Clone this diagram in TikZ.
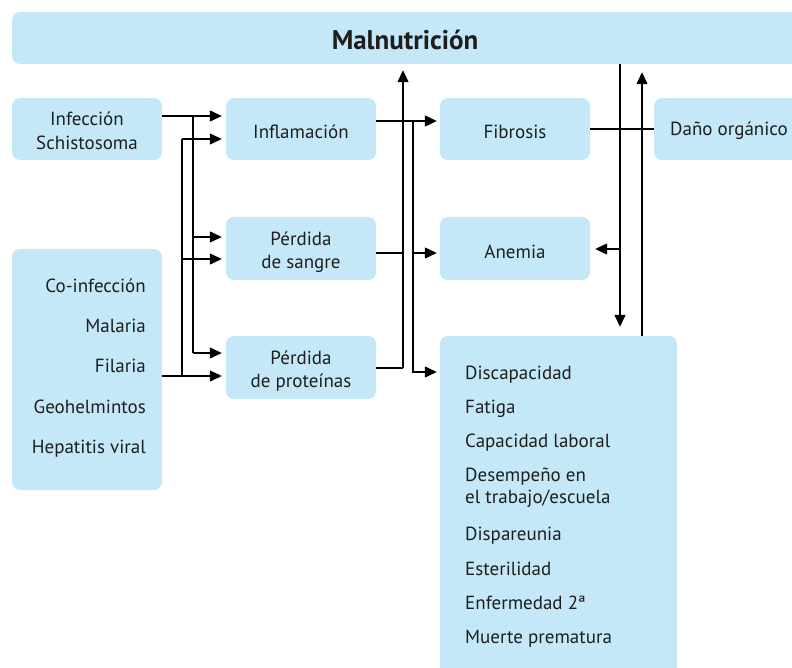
\documentclass[tikz,border=0pt]{standalone}
\usepackage{fontspec}
\setmainfont{PT Sans}
\usetikzlibrary{arrows.meta}
\definecolor{boxfill}{HTML}{C5E8F8}
\definecolor{txt}{HTML}{1E1E1E}
\begin{document}
\begin{tikzpicture}[x=1pt,y=-1pt,
  box/.style={fill=boxfill,rounded corners=8pt,inner sep=0pt},
  btxt/.style={text=txt,inner sep=0pt,align=center,font=\fontsize{19}{23.5}\selectfont},
  lbl/.style={text=txt,inner sep=0pt,font=\fontsize{19}{23}\selectfont,text height=13.5pt,text depth=0pt},
  ln/.style={line width=1.3pt,draw=black},
  arr/.style={ln,-{Triangle[length=12pt,width=11pt]}}]
\useasboundingbox (0,0) rectangle (792,668);
\clip (0,0) rectangle (792,668);
% boxes
\node[box,minimum width=786pt,minimum height=52pt] (mal) at (405,38) {};
\node[box,minimum width=150pt,minimum height=62pt] (inf) at (87,129) {};
\node[box,minimum width=150pt,minimum height=241pt] (coinf) at (87,369.5) {};
\node[box,minimum width=150pt,minimum height=62pt] (infl) at (301,129) {};
\node[box,minimum width=150pt,minimum height=63pt] (sang) at (301,248.5) {};
\node[box,minimum width=150pt,minimum height=63pt] (prot) at (301,367.5) {};
\node[box,minimum width=150pt,minimum height=62pt] (fib) at (515,129) {};
\node[box,minimum width=150pt,minimum height=63pt] (anem) at (515,248.5) {};
\node[box,minimum width=160pt,minimum height=62pt] (dano) at (734,129) {};
\node[box,minimum width=237pt,minimum height=364pt] (list) at (558.5,518) {};
% box texts
\node[btxt,font=\fontsize{27}{30}\selectfont\bfseries] (malt) at ([yshift=-2pt]mal.center) {Malnutrición};
\node[btxt] (inft) at ([yshift=-2pt]inf.center) {Infección\\Schistosoma};
\node[btxt] (inflt) at ([yshift=-3pt]infl.center) {Inflamación};
\node[btxt] (sangt) at ([yshift=-3.5pt]sang.center) {Pérdida\\de sangre};
\node[btxt] (prott) at ([yshift=-3.5pt]prot.center) {Pérdida\\de proteínas};
\node[btxt] (fibt) at ([yshift=-3pt]fib.center) {Fibrosis};
\node[btxt] (anemt) at ([yshift=-3pt]anem.center) {Anemia};
% texts
\node[lbl,anchor=west] (danot) at (670,129) {Daño orgánico};
\node[lbl,anchor=east] (c1) at (146,286) {Co-infección};
\node[lbl,anchor=east] (c2) at (146,326) {Malaria};
\node[lbl,anchor=east] (c3) at (146,366) {Filaria};
\node[lbl,anchor=east] (c4) at (146,407) {Geohelmintos};
\node[lbl,anchor=east] (c5) at (146,447) {Hepatitis viral};
\node[lbl,anchor=west] (l1) at (465,373) {Discapacidad};
\node[lbl,anchor=west] (l2) at (465,407) {Fatiga};
\node[lbl,anchor=west] (l3) at (465,441) {Capacidad laboral};
\node[lbl,anchor=west] (l4) at (465,475) {Desempeño en};
\node[lbl,anchor=west] (l4b) at (465,497) {el trabajo/escuela};
\node[lbl,anchor=west] (l5) at (465,534) {Dispareunia};
\node[lbl,anchor=west] (l6) at (465,569) {Esterilidad};
\node[lbl,anchor=west] (l7) at (465,603) {Enfermedad 2ª};
\node[lbl,anchor=west] (l8) at (465,637) {Muerte prematura};
% helper coordinates
\coordinate (ja) at (193,116);
\coordinate (jb) at (193,237);
\coordinate (jc) at (193,353);
\coordinate (ka) at (182,139);
\coordinate (kb) at (182,259);
\coordinate (kc) at (182,376);
\coordinate (ma) at (403,121);
\coordinate (mb) at (403,253);
\coordinate (mc) at (403,368);
\coordinate (na) at (413,121);
\coordinate (nb) at (413,253);
\coordinate (nc) at (413,372);
\coordinate (ra) at (620,249);
\coordinate (rb) at (642,129);
% left connectors
\draw[arr,shorten >=4pt] (inf.east |- ja) -- (infl.west |- ja);
\draw[ln] (ja) -- (jc);
\draw[arr,shorten >=4pt] (jb) -- (sang.west |- jb);
\draw[arr,shorten >=4pt] (jc) -- (prot.west |- jc);
\draw[arr,shorten >=4pt] (coinf.east |- kc) -- (prot.west |- kc);
\draw[ln] (kc) -- (ka);
\draw[arr,shorten >=4pt] (ka) -- (infl.west |- ka);
\draw[arr,shorten >=4pt] (kb) -- (sang.west |- kb);
% middle connectors
\draw[arr,shorten >=3pt] (infl.east |- ma) -- (fib.west |- ma);
\draw[arr,shorten >=6pt] (mc) -- (mal.south -| mc);
\draw[ln] (sang.east |- mb) -- (mb);
\draw[ln] (prot.east |- mc) -- (mc);
\draw[arr,shorten >=3pt] (na) -- (nc) -- (list.west |- nc);
\draw[arr,shorten >=3pt] (nb) -- (anem.west |- nb);
% right connectors
\draw[ln] (fib.east) -- (dano.west);
\draw[arr,shorten >=9pt] (mal.south -| ra) -- (list.north -| ra);
\draw[arr,shorten >=5pt] (ra) -- (anem.east |- ra);
\draw[arr,shorten >=8pt] (list.north -| rb) -- (mal.south -| rb);
\end{tikzpicture}
\end{document}
